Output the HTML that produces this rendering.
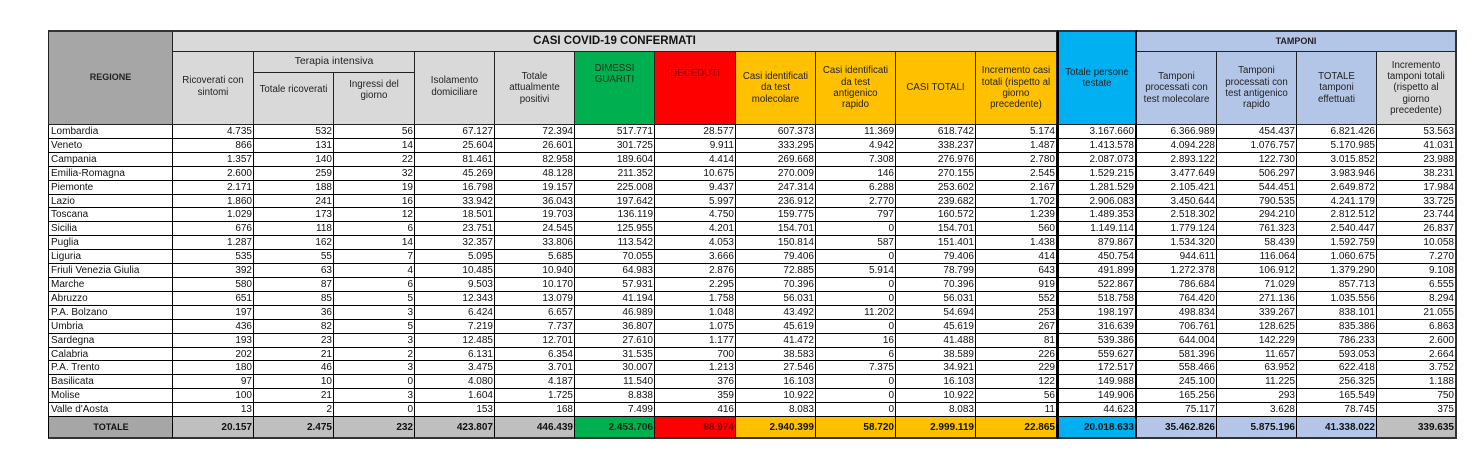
<!DOCTYPE html>
<html><head><meta charset="utf-8">
<style>
html,body{margin:0;padding:0;background:#fff;}
body{width:1478px;height:455px;position:relative;overflow:hidden;font-family:"Liberation Sans",sans-serif;color:#111;}
.h{position:absolute;box-sizing:border-box;border-right:1px solid #222;border-bottom:1px solid #222;display:flex;align-items:center;justify-content:center;text-align:center;font-size:9.7px;line-height:11.3px;color:#222;}
.r{position:absolute;left:48px;display:flex;}
.r>div{box-sizing:border-box;border-right:1px solid #000;border-bottom:1px solid #000;display:flex;align-items:center;justify-content:flex-end;padding-right:1px;font-size:10px;white-space:nowrap;overflow:hidden;width:80px;}
.r>div:nth-child(1){width:125px;border-left:1px solid #000;justify-content:flex-start;padding-left:2px;}
.r>div:nth-child(2),.r>div:nth-child(4),.r>div:nth-child(8),.r>div:nth-child(12){width:81px;}
.r>div:nth-child(13){border-left:2px solid #000;border-right:2px solid #000;}
.r>div:nth-child(17){border-right:2px solid #333;}
.t>div{font-weight:bold;background:#bfbfbf;border-bottom:2px solid #333;}
.t>div:nth-child(1){background:#a6a6a6;justify-content:center;font-size:9px;}
.t>div:nth-child(7){background:#00b050;color:#0d2a12;}
.t>div:nth-child(8){background:#ff0000;color:#7a0000;}
.t>div:nth-child(9),.t>div:nth-child(10),.t>div:nth-child(11),.t>div:nth-child(12){background:#ffc000;}
.t>div:nth-child(13){background:#00b0f0;}
.t>div:nth-child(14),.t>div:nth-child(15),.t>div:nth-child(16){background:#b4c6e7;}
.t>div:nth-child(17){background:#bfbfbf;}
</style></head><body>

<!-- Header -->
<div class="h" style="left:48px;top:30px;width:125px;height:95px;background:#a6a6a6;border-left:1px solid #222;border-top:2px solid #333;font-weight:bold;font-size:9px;">REGIONE</div>
<div class="h" style="left:173px;top:30px;width:884px;height:22px;background:#d9d9d9;border-top:2px solid #333;font-weight:bold;font-size:11.5px;color:#111;">CASI COVID-19 CONFERMATI</div>
<div class="h" style="left:1057px;top:30px;width:80px;height:95px;background:#00b0f0;border-top:2px solid #333;border-left:2px solid #000;border-right:2px solid #000;">Totale persone<br>testate</div>
<div class="h" style="left:1137px;top:30px;width:320px;height:22px;background:#b4c6e7;border-top:2px solid #333;border-right:2px solid #333;font-weight:bold;font-size:9px;">TAMPONI</div>

<div class="h" style="left:173px;top:52px;width:81px;height:73px;background:#d9d9d9;padding-bottom:3px;">Ricoverati con<br>sintomi</div>
<div class="h" style="left:254px;top:52px;width:161px;height:21px;background:#d9d9d9;font-size:10.5px;">Terapia intensiva</div>
<div class="h" style="left:254px;top:73px;width:80px;height:52px;background:#d9d9d9;padding-bottom:17px;">Totale ricoverati</div>
<div class="h" style="left:334px;top:73px;width:81px;height:52px;background:#d9d9d9;padding-bottom:17px;">Ingressi del<br>giorno</div>
<div class="h" style="left:415px;top:52px;width:80px;height:73px;background:#d9d9d9;padding-bottom:3px;">Isolamento<br>domiciliare</div>
<div class="h" style="left:495px;top:52px;width:80px;height:73px;background:#d9d9d9;">Totale<br>attualmente<br>positivi</div>
<div class="h" style="left:575px;top:52px;width:80px;height:73px;background:#00b050;padding-bottom:28px;color:#1a2f1a;">DIMESSI<br>GUARITI</div>
<div class="h" style="left:655px;top:52px;width:81px;height:73px;background:#ff0000;padding-bottom:28px;color:#8a0000;">DECEDUTI</div>
<div class="h" style="left:736px;top:52px;width:80px;height:73px;background:#ffc000;">Casi identificati<br>da test<br>molecolare</div>
<div class="h" style="left:816px;top:52px;width:80px;height:73px;background:#ffc000;">Casi identificati<br>da test<br>antigenico<br>rapido</div>
<div class="h" style="left:896px;top:52px;width:80px;height:73px;background:#ffc000;">CASI TOTALI</div>
<div class="h" style="left:976px;top:52px;width:81px;height:73px;background:#ffc000;">Incremento casi<br>totali (rispetto al<br>giorno<br>precedente)</div>
<div class="h" style="left:1137px;top:52px;width:80px;height:73px;background:#b4c6e7;">Tamponi<br>processati con<br>test molecolare</div>
<div class="h" style="left:1217px;top:52px;width:80px;height:73px;background:#b4c6e7;">Tamponi<br>processati con<br>test antigenico<br>rapido</div>
<div class="h" style="left:1297px;top:52px;width:80px;height:73px;background:#b4c6e7;">TOTALE<br>tamponi<br>effettuati</div>
<div class="h" style="left:1377px;top:52px;width:80px;height:73px;background:#d9d9d9;border-right:2px solid #333;">Incremento<br>tamponi totali<br>(rispetto al<br>giorno<br>precedente)</div>

<!-- Data rows -->
<div class="r" style="top:125px;height:14px"><div>Lombardia</div><div>4.735</div><div>532</div><div>56</div><div>67.127</div><div>72.394</div><div>517.771</div><div>28.577</div><div>607.373</div><div>11.369</div><div>618.742</div><div>5.174</div><div>3.167.660</div><div>6.366.989</div><div>454.437</div><div>6.821.426</div><div>53.563</div></div>
<div class="r" style="top:139px;height:14px"><div>Veneto</div><div>866</div><div>131</div><div>14</div><div>25.604</div><div>26.601</div><div>301.725</div><div>9.911</div><div>333.295</div><div>4.942</div><div>338.237</div><div>1.487</div><div>1.413.578</div><div>4.094.228</div><div>1.076.757</div><div>5.170.985</div><div>41.031</div></div>
<div class="r" style="top:153px;height:14px"><div>Campania</div><div>1.357</div><div>140</div><div>22</div><div>81.461</div><div>82.958</div><div>189.604</div><div>4.414</div><div>269.668</div><div>7.308</div><div>276.976</div><div>2.780</div><div>2.087.073</div><div>2.893.122</div><div>122.730</div><div>3.015.852</div><div>23.988</div></div>
<div class="r" style="top:167px;height:14px"><div>Emilia-Romagna</div><div>2.600</div><div>259</div><div>32</div><div>45.269</div><div>48.128</div><div>211.352</div><div>10.675</div><div>270.009</div><div>146</div><div>270.155</div><div>2.545</div><div>1.529.215</div><div>3.477.649</div><div>506.297</div><div>3.983.946</div><div>38.231</div></div>
<div class="r" style="top:181px;height:14px"><div>Piemonte</div><div>2.171</div><div>188</div><div>19</div><div>16.798</div><div>19.157</div><div>225.008</div><div>9.437</div><div>247.314</div><div>6.288</div><div>253.602</div><div>2.167</div><div>1.281.529</div><div>2.105.421</div><div>544.451</div><div>2.649.872</div><div>17.984</div></div>
<div class="r" style="top:195px;height:13px"><div>Lazio</div><div>1.860</div><div>241</div><div>16</div><div>33.942</div><div>36.043</div><div>197.642</div><div>5.997</div><div>236.912</div><div>2.770</div><div>239.682</div><div>1.702</div><div>2.906.083</div><div>3.450.644</div><div>790.535</div><div>4.241.179</div><div>33.725</div></div>
<div class="r" style="top:208px;height:14px"><div>Toscana</div><div>1.029</div><div>173</div><div>12</div><div>18.501</div><div>19.703</div><div>136.119</div><div>4.750</div><div>159.775</div><div>797</div><div>160.572</div><div>1.239</div><div>1.489.353</div><div>2.518.302</div><div>294.210</div><div>2.812.512</div><div>23.744</div></div>
<div class="r" style="top:222px;height:14px"><div>Sicilia</div><div>676</div><div>118</div><div>6</div><div>23.751</div><div>24.545</div><div>125.955</div><div>4.201</div><div>154.701</div><div>0</div><div>154.701</div><div>560</div><div>1.149.114</div><div>1.779.124</div><div>761.323</div><div>2.540.447</div><div>26.837</div></div>
<div class="r" style="top:236px;height:14px"><div>Puglia</div><div>1.287</div><div>162</div><div>14</div><div>32.357</div><div>33.806</div><div>113.542</div><div>4.053</div><div>150.814</div><div>587</div><div>151.401</div><div>1.438</div><div>879.867</div><div>1.534.320</div><div>58.439</div><div>1.592.759</div><div>10.058</div></div>
<div class="r" style="top:250px;height:14px"><div>Liguria</div><div>535</div><div>55</div><div>7</div><div>5.095</div><div>5.685</div><div>70.055</div><div>3.666</div><div>79.406</div><div>0</div><div>79.406</div><div>414</div><div>450.754</div><div>944.611</div><div>116.064</div><div>1.060.675</div><div>7.270</div></div>
<div class="r" style="top:264px;height:14px"><div>Friuli Venezia Giulia</div><div>392</div><div>63</div><div>4</div><div>10.485</div><div>10.940</div><div>64.983</div><div>2.876</div><div>72.885</div><div>5.914</div><div>78.799</div><div>643</div><div>491.899</div><div>1.272.378</div><div>106.912</div><div>1.379.290</div><div>9.108</div></div>
<div class="r" style="top:278px;height:14px"><div>Marche</div><div>580</div><div>87</div><div>6</div><div>9.503</div><div>10.170</div><div>57.931</div><div>2.295</div><div>70.396</div><div>0</div><div>70.396</div><div>919</div><div>522.867</div><div>786.684</div><div>71.029</div><div>857.713</div><div>6.555</div></div>
<div class="r" style="top:292px;height:14px"><div>Abruzzo</div><div>651</div><div>85</div><div>5</div><div>12.343</div><div>13.079</div><div>41.194</div><div>1.758</div><div>56.031</div><div>0</div><div>56.031</div><div>552</div><div>518.758</div><div>764.420</div><div>271.136</div><div>1.035.556</div><div>8.294</div></div>
<div class="r" style="top:306px;height:14px"><div>P.A. Bolzano</div><div>197</div><div>36</div><div>3</div><div>6.424</div><div>6.657</div><div>46.989</div><div>1.048</div><div>43.492</div><div>11.202</div><div>54.694</div><div>253</div><div>198.197</div><div>498.834</div><div>339.267</div><div>838.101</div><div>21.055</div></div>
<div class="r" style="top:320px;height:14px"><div>Umbria</div><div>436</div><div>82</div><div>5</div><div>7.219</div><div>7.737</div><div>36.807</div><div>1.075</div><div>45.619</div><div>0</div><div>45.619</div><div>267</div><div>316.639</div><div>706.761</div><div>128.625</div><div>835.386</div><div>6.863</div></div>
<div class="r" style="top:334px;height:14px"><div>Sardegna</div><div>193</div><div>23</div><div>3</div><div>12.485</div><div>12.701</div><div>27.610</div><div>1.177</div><div>41.472</div><div>16</div><div>41.488</div><div>81</div><div>539.386</div><div>644.004</div><div>142.229</div><div>786.233</div><div>2.600</div></div>
<div class="r" style="top:348px;height:13px"><div>Calabria</div><div>202</div><div>21</div><div>2</div><div>6.131</div><div>6.354</div><div>31.535</div><div>700</div><div>38.583</div><div>6</div><div>38.589</div><div>226</div><div>559.627</div><div>581.396</div><div>11.657</div><div>593.053</div><div>2.664</div></div>
<div class="r" style="top:361px;height:14px"><div>P.A. Trento</div><div>180</div><div>46</div><div>3</div><div>3.475</div><div>3.701</div><div>30.007</div><div>1.213</div><div>27.546</div><div>7.375</div><div>34.921</div><div>229</div><div>172.517</div><div>558.466</div><div>63.952</div><div>622.418</div><div>3.752</div></div>
<div class="r" style="top:375px;height:14px"><div>Basilicata</div><div>97</div><div>10</div><div>0</div><div>4.080</div><div>4.187</div><div>11.540</div><div>376</div><div>16.103</div><div>0</div><div>16.103</div><div>122</div><div>149.988</div><div>245.100</div><div>11.225</div><div>256.325</div><div>1.188</div></div>
<div class="r" style="top:389px;height:14px"><div>Molise</div><div>100</div><div>21</div><div>3</div><div>1.604</div><div>1.725</div><div>8.838</div><div>359</div><div>10.922</div><div>0</div><div>10.922</div><div>56</div><div>149.906</div><div>165.256</div><div>293</div><div>165.549</div><div>750</div></div>
<div class="r" style="top:403px;height:14px"><div>Valle d'Aosta</div><div>13</div><div>2</div><div>0</div><div>153</div><div>168</div><div>7.499</div><div>416</div><div>8.083</div><div>0</div><div>8.083</div><div>11</div><div>44.623</div><div>75.117</div><div>3.628</div><div>78.745</div><div>375</div></div>
<div class="r t" style="top:417px;height:22px"><div>TOTALE</div><div>20.157</div><div>2.475</div><div>232</div><div>423.807</div><div>446.439</div><div>2.453.706</div><div>98.974</div><div>2.940.399</div><div>58.720</div><div>2.999.119</div><div>22.865</div><div>20.018.633</div><div>35.462.826</div><div>5.875.196</div><div>41.338.022</div><div>339.635</div></div>

</body></html>
